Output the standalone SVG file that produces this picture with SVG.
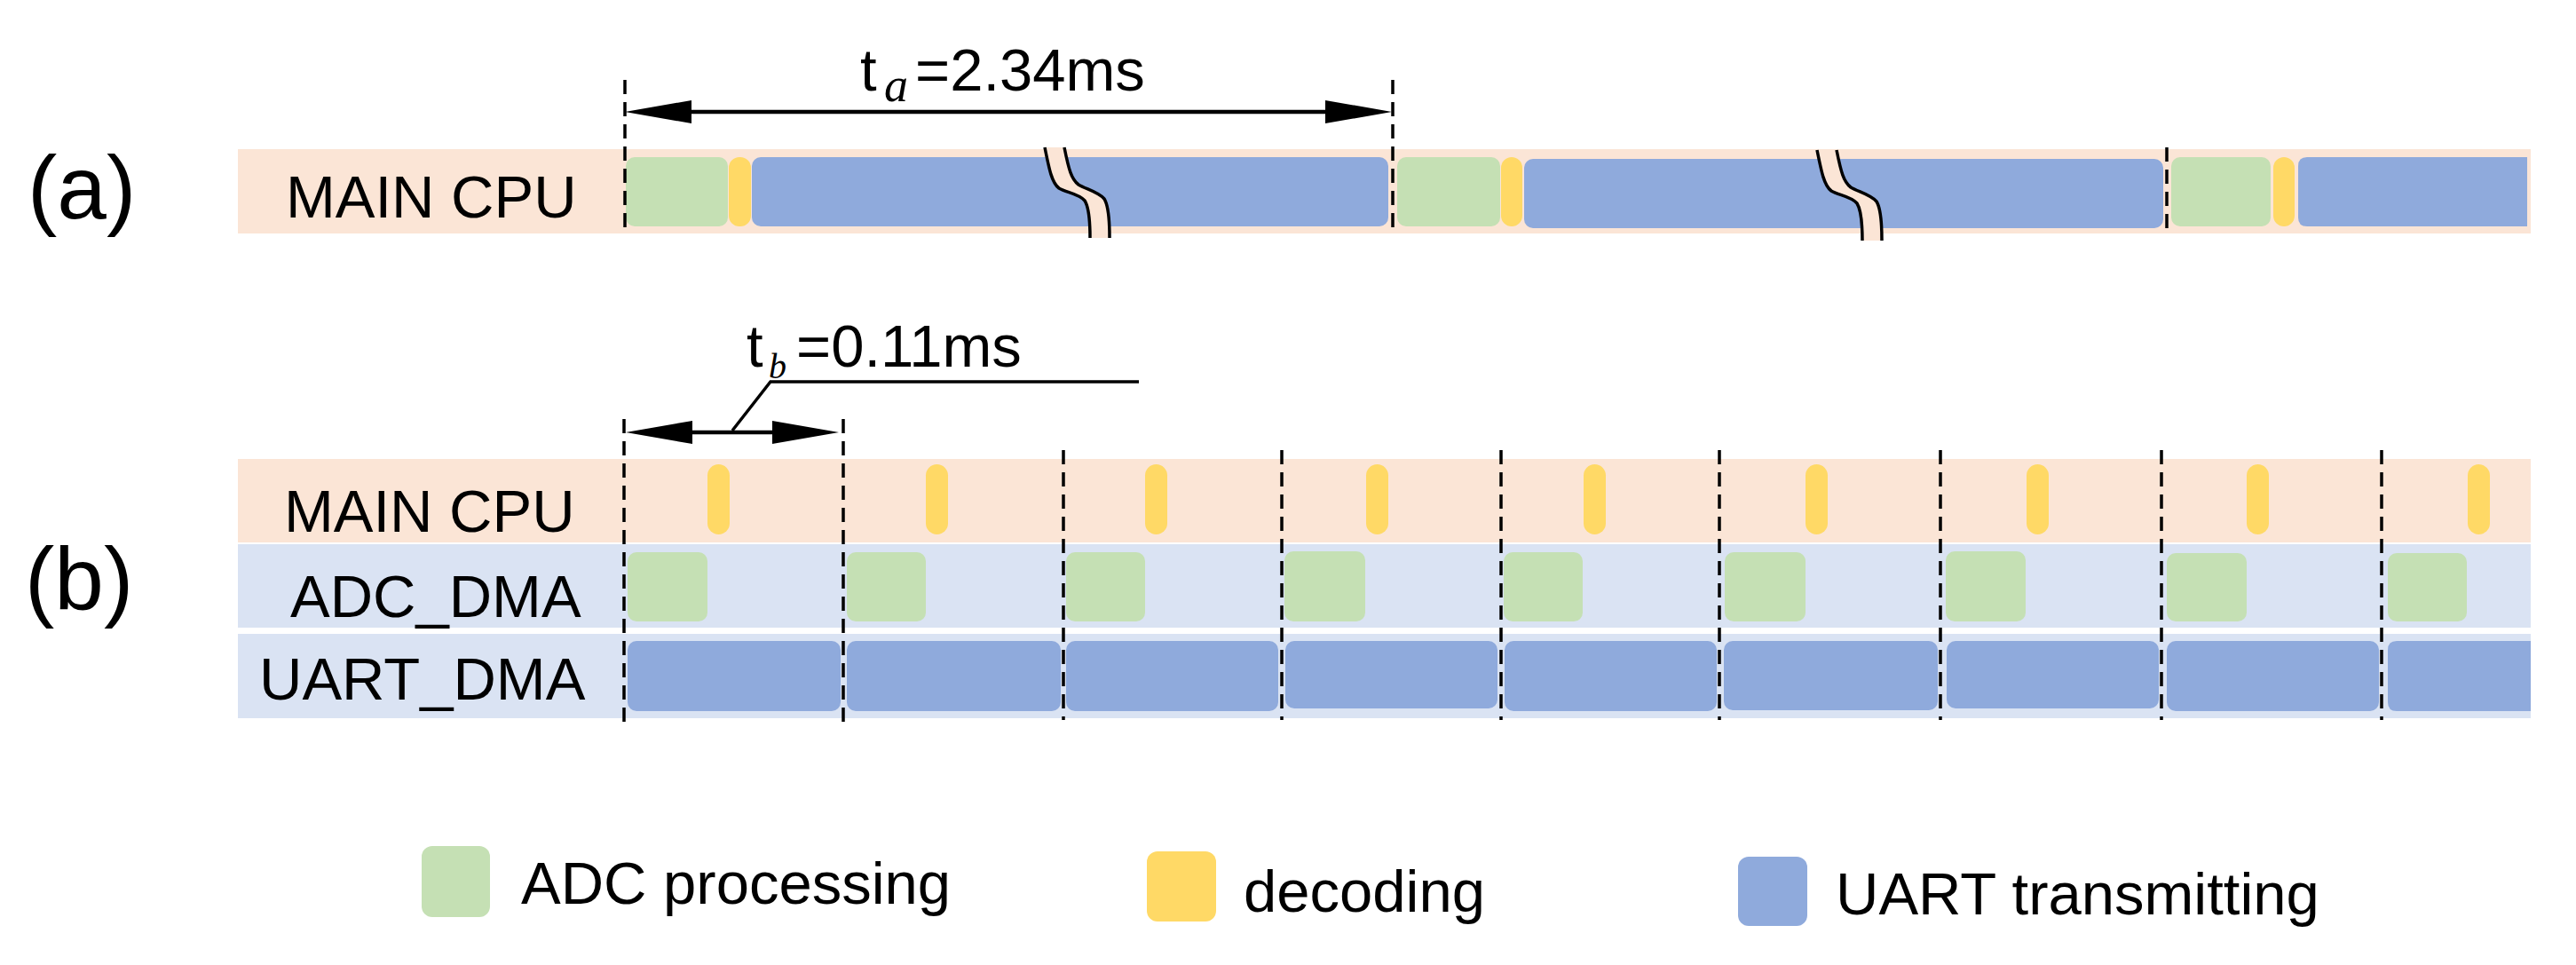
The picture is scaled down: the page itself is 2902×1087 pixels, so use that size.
<svg xmlns="http://www.w3.org/2000/svg" xmlns:xlink="http://www.w3.org/1999/xlink" width="2902" height="1087" viewBox="0 0 2902 1087">
<style>
.peach{fill:#FBE5D6}
.lblue{fill:#DAE3F3}
.g{fill:#C5E0B4}
.y{fill:#FFD966}
.b{fill:#8FAADC}
.t{font-family:"Liberation Sans",Arial,sans-serif;font-size:67px;fill:#000}
.big{font-family:"Liberation Sans",Arial,sans-serif;font-size:100px;fill:#000}
.sub{font-family:"Liberation Serif","Times New Roman",serif;font-style:italic;fill:#000}
.dash{stroke:#000;stroke-width:3.5;stroke-dasharray:16 9;fill:none}
.arr{stroke:#000;stroke-width:4.5;fill:none}
.lead{stroke:#000;stroke-width:3.5;fill:none}
.edge{stroke:#000;stroke-width:3.5;fill:none}
</style>
<defs>
<marker id="head" viewBox="0 0 75 26" refX="55" refY="13" markerWidth="75" markerHeight="26" markerUnits="userSpaceOnUse" orient="auto-start-reverse">
<path d="M0,0 L75,13 L0,26 Z" fill="#000"/>
</marker>
<g id="brk">
<path class="peach" d="M0,0 C5,25 8,40 16,46 C24,51 38,52 45,60 C50,68 51,85 51,102 L73,102 C73,85 72,66 67,58 C60,50 46,47 38,42 C30,36 27,25 22,0 Z"/>
<path class="edge" d="M0,0 C5,25 8,40 16,46 C24,51 38,52 45,60 C50,68 51,85 51,102"/>
<path class="edge" d="M22,0 C27,25 30,36 38,42 C46,47 60,50 67,58 C72,66 73,85 73,102"/>
</g>
</defs>
<rect width="2902" height="1087" fill="#fff"/>

<g id="panel-a">
<text class="big" x="31" y="246">(a)</text>
<rect class="peach" x="268" y="168" width="2583" height="95"/>
<text class="t" x="322" y="245">MAIN CPU</text>
<rect class="g" x="705" y="177" width="115" height="78" rx="10"/>
<rect class="y" x="821" y="177" width="25" height="78" rx="12"/>
<rect class="b" x="847" y="177" width="717" height="78" rx="10"/>
<rect class="g" x="1574" y="177" width="116" height="78" rx="10"/>
<rect class="y" x="1691" y="177" width="24" height="78" rx="12"/>
<rect class="b" x="1717" y="179" width="720" height="78" rx="10"/>
<rect class="g" x="2446" y="177" width="112" height="78" rx="10"/>
<rect class="y" x="2561" y="177" width="24" height="78" rx="12"/>
<path class="b" d="M2599,177 H2847 V255 H2599 Q2589,255 2589,245 V187 Q2589,177 2599,177 Z"/>
<use xlink:href="#brk" x="1177" y="166"/>
<use xlink:href="#brk" x="2047" y="169"/>
</g>

<g id="panel-b">
<text class="big" x="28" y="687">(b)</text>
<rect class="peach" x="268" y="517" width="2583" height="94"/>
<rect class="lblue" x="268" y="613" width="2583" height="94"/>
<rect class="lblue" x="268" y="714" width="2583" height="95"/>
<text class="t" x="320" y="599">MAIN CPU</text>
<text class="t" x="327" y="695">ADC_DMA</text>
<text class="t" x="292" y="788">UART_DMA</text>
<g id="decode-b">
<rect class="y" x="797" y="523" width="25" height="79" rx="12.5"/>
<rect class="y" x="1043" y="523" width="25" height="79" rx="12.5"/>
<rect class="y" x="1290" y="523" width="25" height="79" rx="12.5"/>
<rect class="y" x="1539" y="523" width="25" height="79" rx="12.5"/>
<rect class="y" x="1784" y="523" width="25" height="79" rx="12.5"/>
<rect class="y" x="2034" y="523" width="25" height="79" rx="12.5"/>
<rect class="y" x="2283" y="523" width="25" height="79" rx="12.5"/>
<rect class="y" x="2531" y="523" width="25" height="79" rx="12.5"/>
<rect class="y" x="2780" y="523" width="25" height="79" rx="12.5"/>
</g>
<g id="adc-b">
<rect class="g" x="707" y="622" width="90" height="78" rx="10"/>
<rect class="g" x="954" y="622" width="89" height="78" rx="10"/>
<rect class="g" x="1201" y="622" width="89" height="78" rx="10"/>
<rect class="g" x="1447" y="621" width="91" height="79" rx="10"/>
<rect class="g" x="1694" y="622" width="89" height="78" rx="10"/>
<rect class="g" x="1943" y="622" width="91" height="78" rx="10"/>
<rect class="g" x="2192" y="621" width="90" height="79" rx="10"/>
<rect class="g" x="2441" y="623" width="90" height="77" rx="10"/>
<rect class="g" x="2690" y="623" width="89" height="77" rx="10"/>
</g>
<g id="uart-b">
<rect class="b" x="707" y="722" width="240" height="79" rx="10"/>
<rect class="b" x="954" y="722" width="241" height="79" rx="10"/>
<rect class="b" x="1201" y="722" width="239" height="79" rx="10"/>
<rect class="b" x="1448" y="722" width="239" height="76" rx="10"/>
<rect class="b" x="1695" y="722" width="239" height="79" rx="10"/>
<rect class="b" x="1942" y="722" width="241" height="78" rx="10"/>
<rect class="b" x="2193" y="722" width="239" height="76" rx="10"/>
<rect class="b" x="2441" y="722" width="239" height="79" rx="10"/>
<path class="b" d="M2700,722 H2851 V801 H2700 Q2690,801 2690,791 V732 Q2690,722 2700,722 Z"/>
</g>
</g>

<g id="connectors">
<line class="dash" x1="704" y1="90" x2="704" y2="263"/>
<line class="dash" x1="1569" y1="90" x2="1569" y2="263"/>
<line class="dash" x1="2441" y1="166" x2="2441" y2="261"/>
<line class="arr" x1="724" y1="126" x2="1548" y2="126" marker-start="url(#head)" marker-end="url(#head)"/>

<line class="dash" x1="703" y1="472" x2="703" y2="815"/>
<line class="dash" x1="950" y1="472" x2="950" y2="815"/>
<line class="dash" x1="1198" y1="507" x2="1198" y2="811"/>
<line class="dash" x1="1444" y1="507" x2="1444" y2="811"/>
<line class="dash" x1="1691" y1="507" x2="1691" y2="811"/>
<line class="dash" x1="1937" y1="507" x2="1937" y2="811"/>
<line class="dash" x1="2186" y1="507" x2="2186" y2="811"/>
<line class="dash" x1="2435" y1="507" x2="2435" y2="811"/>
<line class="dash" x1="2683" y1="507" x2="2683" y2="811"/>
<line class="arr" x1="725" y1="487" x2="925" y2="487" marker-start="url(#head)" marker-end="url(#head)"/>
<polyline class="lead" points="825,485 868,430 1283,430"/>
</g>

<g id="labels">
<text class="t" x="969" y="102">t</text>
<text class="sub" x="996" y="114" font-size="54">a</text>
<text class="t" x="1031" y="102">=2.34ms</text>
<text class="t" x="841" y="413">t</text>
<text class="sub" x="866" y="426" font-size="40">b</text>
<text class="t" x="897" y="413">=0.11ms</text>
</g>

<g id="legend">
<rect class="g" x="475" y="953" width="77" height="80" rx="12"/>
<text class="t" x="587" y="1018">ADC processing</text>
<rect class="y" x="1292" y="959" width="78" height="79" rx="12"/>
<text class="t" x="1401" y="1027">decoding</text>
<rect class="b" x="1958" y="965" width="78" height="78" rx="12"/>
<text class="t" x="2068" y="1030">UART transmitting</text>
</g>
</svg>
